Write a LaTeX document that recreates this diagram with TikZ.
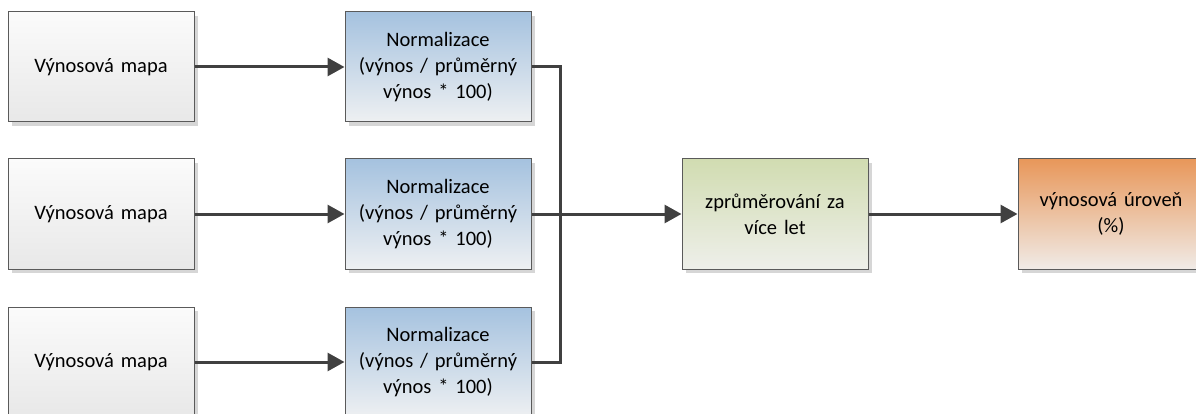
\documentclass[tikz,border=0pt]{standalone}
\usepackage{fontspec}
\setmainfont{Carlito}
\usetikzlibrary{arrows.meta,shadows}
\definecolor{linec}{HTML}{404040}
\definecolor{borderc}{HTML}{5A5A5A}
\definecolor{shadowc}{HTML}{D6D6D6}
\definecolor{grayT}{HTML}{FBFBFB}
\definecolor{grayB}{HTML}{E8E8E8}
\definecolor{blueT}{HTML}{A5C2DF}
\definecolor{blueB}{HTML}{EEF0F2}
\definecolor{greenT}{HTML}{D1DCB1}
\definecolor{greenB}{HTML}{EEEFEA}
\definecolor{orangeT}{HTML}{E8975A}
\definecolor{orangeB}{HTML}{F0EBE7}
\tikzset{
  boxbase/.style={draw=borderc, line width=1pt, minimum width=186pt, minimum height=110pt,
    text width=180pt, align=center, inner sep=0pt,
    font=\fontsize{20.5pt}{26pt}\selectfont,
    drop shadow={shadow xshift=4pt, shadow yshift=-4pt, fill=shadowc, opacity=1}},
  mapbox/.style={boxbase, top color=grayT, bottom color=grayB},
  normbox/.style={boxbase, top color=blueT, bottom color=blueB},
  avgbox/.style={boxbase, top color=greenT, bottom color=greenB},
  resbox/.style={boxbase, top color=orangeT, bottom color=orangeB},
  conn/.style={draw=linec, line width=3pt},
  arr/.style={conn, -{Triangle[length=17pt, width=18pt]}}
}
\begin{document}
\begin{tikzpicture}[x=1pt, y=-1pt]
\useasboundingbox (0,0) rectangle (1196,414);
\node[mapbox] (m1) at (101,67) {Výnosová mapa};
\node[mapbox] (m2) at (101,214) {Výnosová mapa};
\node[mapbox] (m3) at (101,362) {Výnosová mapa};
\node[normbox] (n1) at (438,67) {Normalizace\\(výnos / průměrný\\výnos * 100)};
\node[normbox] (n2) at (438,214) {Normalizace\\(výnos / průměrný\\výnos * 100)};
\node[normbox] (n3) at (438,362) {Normalizace\\(výnos / průměrný\\výnos * 100)};
\node[avgbox] (avg) at (775,214) {zprůměrování za\\více let};
\node[resbox] (res) at (1111,214) {výnosová úroveň\\(\%)};
\coordinate (j1) at (560,67);
\coordinate (j3) at (560,362);
\draw[arr] (m1) -- (n1);
\draw[arr] (m2) -- (n2);
\draw[arr] (m3) -- (n3);
\draw[conn, line join=miter] (n1.east) -- (j1) -- (j3) -- (n3.east);
\draw[arr] (n2) -- (avg);
\draw[arr] (avg) -- (res);
\end{tikzpicture}
\end{document}
